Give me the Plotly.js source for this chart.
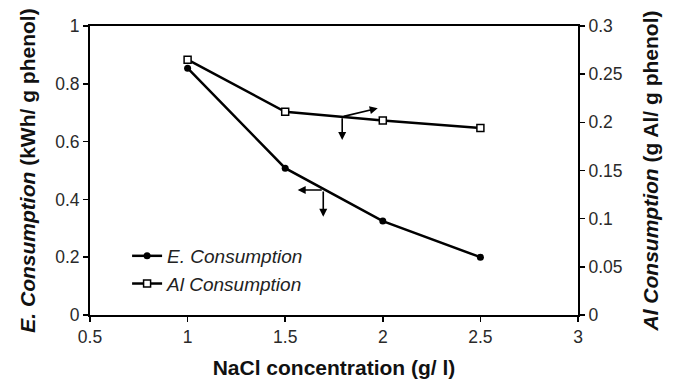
<!DOCTYPE html>
<html>
<head>
<meta charset="utf-8">
<script src="https://cdn.plot.ly/plotly-3.0.1.min.js"></script>
<style>
  html, body { margin: 0; padding: 0; background: #fff; }
  #chart { width: 673px; height: 382px; }
</style>
</head>
<body>
<div id="chart"></div>
<script>
// NaCl concentration (g/l)
const nacl = [1, 1.5, 2, 2.5];
// Energy consumption (kWh / g phenol), left axis
const energy = [0.854, 0.508, 0.325, 0.2];
// Aluminium consumption (g Al / g phenol), right axis
const aluminium = [0.265, 0.211, 0.202, 0.194];

const font = 'Liberation Sans, Arial, sans-serif';
const tickFont = { family: font, size: 17.5, color: '#2a2a2a' };
const titleFont = { family: font, size: 21, color: '#111' };

const traces = [
  {
    x: nacl, y: energy, name: '<i>E. Consumption</i>',
    type: 'scatter', mode: 'lines+markers',
    line: { color: '#000', width: 2.5 },
    marker: { symbol: 'circle', size: 7, color: '#000' }
  },
  {
    x: nacl, y: aluminium, name: '<i>Al Consumption</i>', yaxis: 'y2',
    type: 'scatter', mode: 'lines+markers',
    line: { color: '#000', width: 2.5 },
    marker: { symbol: 'square', size: 7, color: '#fff', line: { color: '#000', width: 1.5 } }
  }
];

// Arrows pointing each curve to its own axis
function arrow(x, y, ax, ay, yref) {
  return {
    x: x, y: y, ax: ax, ay: ay,
    xref: 'x', yref: yref, axref: 'x', ayref: yref,
    text: '', showarrow: true, arrowhead: 2, arrowsize: 1,
    arrowwidth: 1.6, arrowcolor: '#000'
  };
}

const layout = {
  width: 673, height: 382,
  margin: { l: 90, r: 95, t: 26, b: 67 },
  paper_bgcolor: '#fff', plot_bgcolor: '#fff',
  font: { family: font, size: 17.5, color: '#2a2a2a' },
  showlegend: true,
  legend: {
    x: 0.076, y: 0.27, xanchor: 'left', yanchor: 'top',
    bgcolor: 'rgba(0,0,0,0)', font: { family: font, size: 19, color: '#222' },
    tracegroupgap: 0, itemwidth: 30
  },
  xaxis: {
    range: [0.5, 3], dtick: 0.5, tick0: 0.5,
    showgrid: false, zeroline: false,
    showline: true, linecolor: '#000', linewidth: 2, mirror: true,
    ticks: 'outside', ticklen: 5, tickwidth: 1.5, tickcolor: '#000',
    tickfont: tickFont,
    title: { text: '<b>NaCl concentration (g/ l)</b>', font: titleFont, standoff: 14 }
  },
  yaxis: {
    range: [0, 1], dtick: 0.2,
    showgrid: false, zeroline: false,
    showline: true, linecolor: '#000', linewidth: 2,
    ticks: 'outside', ticklen: 5, tickwidth: 1.5, tickcolor: '#000',
    tickfont: tickFont,
    title: { text: '<b><i>E. Consumption</i> (kWh/ g phenol)</b>', font: titleFont, standoff: 14 }
  },
  yaxis2: {
    overlaying: 'y', side: 'right',
    range: [0, 0.3], dtick: 0.05,
    showgrid: false, zeroline: false,
    showline: true, linecolor: '#000', linewidth: 2,
    ticks: 'outside', ticklen: 5, tickwidth: 1.5, tickcolor: '#000',
    tickfont: tickFont,
    title: { text: '<b><i>Al Consumption</i> (g Al/ g phenol)</b>', font: titleFont, standoff: 22 }
  },
  // inner half of the crossing ticks on the right axis
  yaxis3: {
    overlaying: 'y', side: 'right', anchor: 'x',
    range: [0, 0.3], dtick: 0.05,
    showgrid: false, zeroline: false, showline: false,
    ticks: 'inside', ticklen: 5, tickwidth: 1.5, tickcolor: '#000',
    showticklabels: false
  },
  annotations: [
    arrow(1.564, 0.4325, 1.695, 0.4325, 'y'),
    arrow(1.695, 0.34, 1.695, 0.4325, 'y'),
    arrow(1.974, 0.2146, 1.792, 0.2058, 'y2'),
    arrow(1.792, 0.1817, 1.792, 0.2058, 'y2')
  ]
};

Plotly.newPlot('chart', traces, layout, { displayModeBar: false, staticPlot: true });
</script>
</body>
</html>
